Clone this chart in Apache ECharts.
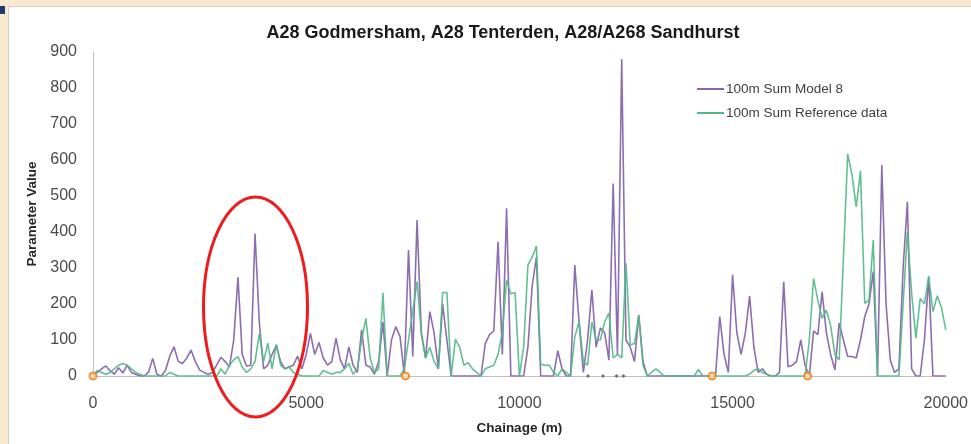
<!DOCTYPE html>
<html>
<head>
<meta charset="utf-8">
<title>A28 Godmersham, A28 Tenterden, A28/A268 Sandhurst</title>
<script src="https://cdn.jsdelivr.net/npm/echarts@6/dist/echarts.min.js"></script>
<style>
  html, body { margin: 0; padding: 0; background: #fbe9cf; }
  #frame { position: absolute; left: 8px; top: 6px; width: 963px; height: 438px; background: #ffffff; border-left: 1px solid #d9d0c4; border-top: 1px solid #d9d0c4; }
  #corner { position: absolute; left: 0; top: 6px; width: 5px; height: 8px; background: #1f3b73; }
  #chart { position: absolute; left: 0; top: 0; width: 971px; height: 444px; }
</style>
</head>
<body>
<div id="frame"></div>
<div id="corner"></div>
<div id="chart"></div>
<script>
// Chainage sampling: one value per 100 m section, starting at 0 m
const chainageStart = 0;
const chainageStep = 100;

// 100m Sum Model 8
const model8 = [
  0, 10, 20, 28, 15, 5, 23, 8, 30, 10,
  5, 0, 0, 10, 49, 5, 0, 15, 55, 81,
  40, 35, 50, 72, 40, 17, 10, 5, 10, 30,
  52, 40, 25, 100, 274, 60, 28, 30, 396, 150,
  20, 30, 60, 85, 40, 20, 25, 30, 55, 20,
  60, 118, 60, 93, 50, 30, 40, 105, 45, 20,
  81, 30, 10, 128, 30, 25, 5, 40, 150, 0,
  100, 137, 110, 5, 350, 54, 433, 120, 50, 179,
  120, 20, 200, 100, 0, 0, 0, 0, 0, 0,
  0, 0, 90, 115, 125, 373, 60, 466, 0, 0,
  0, 0, 80, 250, 330, 0, 0, 0, 0, 70,
  20, 0, 0, 308, 150, 10, 100, 239, 80, 133,
  120, 44, 535, 60, 880, 100, 80, 40, 169, 40,
  0, 0, 0, 0, 0, 0, 0, 0, 0, 0,
  0, 0, 0, 0, 0, 0, 0, 165, 60, 10,
  281, 120, 60, 120, 222, 80, 10, 20, 5, 0,
  0, 10, 262, 26, 30, 40, 100, 30, 0, 125,
  115, 234, 120, 60, 17, 147, 100, 54, 54, 50,
  100, 165, 200, 290, 0, 586, 200, 44, 10, 20,
  300, 484, 20, 0, 0, 100, 276, 0, 0, 0,
  0
];

// 100m Sum Reference data
const reference = [
  0, 15, 10, 5, 10, 20, 30, 35, 30, 20,
  10, 5, 0, 0, 0, 0, 0, 0, 10, 5,
  0, 0, 0, 0, 0, 0, 0, 0, 0, 0,
  20, 5, 30, 45, 54, 25, 10, 20, 40, 118,
  40, 91, 20, 88, 30, 20, 25, 10, 5, 0,
  0, 0, 0, 0, 15, 10, 5, 10, 10, 20,
  35, 5, 20, 100, 160, 50, 10, 20, 231, 0,
  0, 0, 0, 20, 100, 180, 262, 120, 50, 80,
  40, 20, 232, 232, 0, 102, 80, 30, 37, 20,
  10, 0, 20, 25, 30, 60, 120, 267, 228, 232,
  0, 80, 308, 330, 361, 33, 30, 30, 10, 0,
  20, 10, 0, 109, 151, 40, 30, 150, 100, 100,
  150, 175, 50, 60, 50, 313, 86, 90, 169, 30,
  0, 10, 20, 10, 0, 0, 0, 0, 0, 0,
  0, 0, 18, 0, 0, 0, 0, 0, 0, 0,
  0, 0, 0, 0, 5, 15, 20, 10, 5, 0,
  0, 0, 0, 0, 0, 0, 0, 0, 100, 271,
  210, 160, 183, 140, 60, 45, 330, 617, 560, 470,
  570, 202, 210, 378, 0, 0, 0, 0, 0, 0,
  200, 400, 230, 105, 215, 200, 276, 179, 223, 190,
  128
];

// Orange site markers on the baseline (chainage, value)
const siteMarkers = [[0, 0], [7330, 0], [14520, 0], [16760, 0]];
// Small dark ticks on the baseline (chainage, value)
const smallMarkers = [[11610, 0], [11960, 0], [12280, 0], [12440, 0]];

const xTicks = { min: 0, max: 20000, interval: 5000 };
const yTicks = { min: 0, max: 900, interval: 100 };

function pairs(values) {
  return values.map((v, i) => [chainageStart + i * chainageStep, v]);
}

const FONT = 'Liberation Sans, Arial, sans-serif';
const chart = echarts.init(document.getElementById('chart'), null, { renderer: 'canvas' });
const axisText = { color: '#4a4a4a', fontFamily: FONT, fontSize: 16, formatter: v => String(v) };

chart.setOption({
  backgroundColor: 'transparent',
  animation: false,
  title: {
    text: 'A28 Godmersham, A28 Tenterden, A28/A268 Sandhurst',
    left: 498, top: 19, textAlign: 'center',
    textStyle: { fontFamily: FONT, fontWeight: 'bold', fontSize: 18, color: '#1a1a1a' }
  },
  legend: {
    orient: 'vertical', left: 692, top: 77, itemWidth: 27, itemHeight: 2, itemGap: 10,
    icon: 'rect',
    data: ['100m Sum Model 8', '100m Sum Reference data'],
    textStyle: { fontFamily: FONT, fontSize: 13.5, color: '#404040', padding: [0, 0, 0, -3] }
  },
  grid: { left: 93, right: 20, top: 52, bottom: 68, containLabel: false },
  xAxis: {
    type: 'value', min: xTicks.min, max: xTicks.max, interval: xTicks.interval,
    name: 'Chainage (m)', nameLocation: 'middle', nameGap: 45,
    nameTextStyle: { fontFamily: FONT, fontWeight: 'bold', fontSize: 13.5, color: '#262626' },
    axisLine: { show: true, lineStyle: { color: '#c0c0c0', width: 1 } },
    axisTick: { show: false },
    splitLine: { show: false },
    axisLabel: Object.assign({ margin: 20 }, axisText)
  },
  yAxis: {
    type: 'value', min: yTicks.min, max: yTicks.max, interval: yTicks.interval,
    name: 'Parameter Value', nameLocation: 'middle', nameGap: 52, nameRotate: 90,
    nameTextStyle: { fontFamily: FONT, fontWeight: 'bold', fontSize: 13.5, color: '#262626' },
    axisLine: { show: true, lineStyle: { color: '#c0c0c0', width: 1 } },
    axisTick: { show: false },
    splitLine: { show: false },
    axisLabel: Object.assign({ margin: 16 }, axisText)
  },
  series: [
    {
      name: '100m Sum Model 8', type: 'line', data: pairs(model8),
      showSymbol: false, color: '#8765ad',
      lineStyle: { width: 1.6, color: '#8765ad', opacity: 0.95 }
    },
    {
      name: '100m Sum Reference data', type: 'line', data: pairs(reference),
      showSymbol: false, color: '#52b887',
      lineStyle: { width: 1.6, color: '#52b887', opacity: 0.9 }
    },
    {
      name: 'sites', type: 'scatter', data: siteMarkers, symbol: 'circle', symbolSize: 7,
      itemStyle: { color: '#ffd9a8', borderColor: '#f07c12', borderWidth: 2 }, silent: true, z: 5
    },
    {
      name: 'ticks', type: 'scatter', data: smallMarkers, symbol: 'diamond', symbolSize: 4,
      itemStyle: { color: '#555555' }, silent: true, z: 5
    }
  ],
  graphic: [
    {
      type: 'ellipse', z: 100,
      shape: { cx: 255.5, cy: 307, rx: 52, ry: 110 },
      style: { fill: 'none', stroke: '#ee1c1c', lineWidth: 3 }
    }
  ]
});
</script>
</body>
</html>
